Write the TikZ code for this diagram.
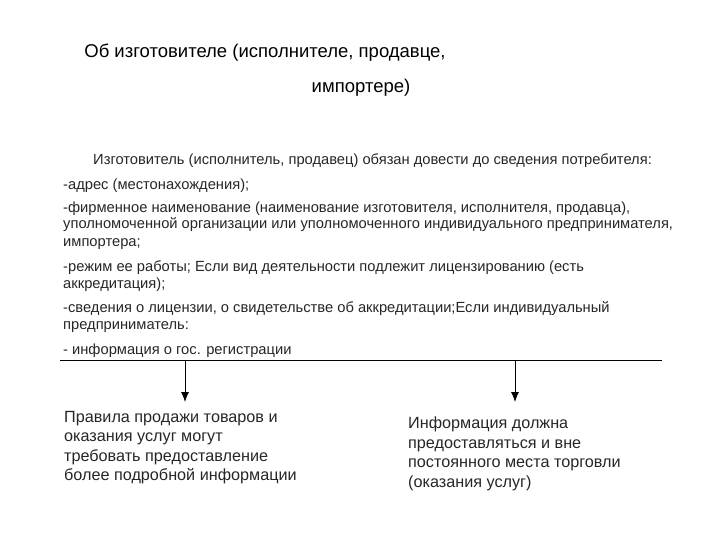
\documentclass[tikz,border=0pt]{standalone}
\usepackage{fontspec}
\usetikzlibrary{arrows.meta}
\setmainfont{Liberation Sans}
\begin{document}
\begin{tikzpicture}[x=1pt,y=-1pt,
 tl/.style={anchor=base west,inner sep=0pt,font=\fontsize{14.7}{18}\selectfont,text=black!85},
 bt/.style={anchor=north west,inner sep=0pt,align=left,font=\fontsize{16.2}{19.5}\selectfont,text=black!85},
 ttl/.style={anchor=base,inner sep=0pt,font=\fontsize{18.5}{26}\selectfont},
 arr/.style={-{Latex[length=10pt,width=8pt]},line width=0.8pt}]
\useasboundingbox (0,0) rectangle (720,540);
\node[ttl] (t1) at (265,58) {Об изготовителе (исполнителе, продавце,};
\node[ttl] (t2) at (361,93) {импортере)};
\node[tl] (l1) at (93,165) {Изготовитель (исполнитель, продавец) обязан довести до сведения потребителя:};
\node[tl] (l2) at (63,190) {-адрес (местонахождения);};
\node[tl] (l3) at (63,212) {-фирменное наименование (наименование изготовителя, исполнителя, продавца),};
\node[tl] (l4) at (63,229) {уполномоченной организации или уполномоченного индивидуального предпринимателя,};
\node[tl] (l5) at (63,246) {импортера;};
\node[tl] (l6) at (63,271) {-режим ее работы; Если вид деятельности подлежит лицензированию (есть};
\node[tl] (l7) at (63,288) {аккредитация);};
\node[tl] (l8) at (63,312) {-сведения о лицензии, о свидетельстве об аккредитации;Если индивидуальный};
\node[tl] (l9) at (63,329) {предприниматель:};
\node[tl] (l10) at (63,354) {- информация о гос. регистрации};
\coordinate (hl) at (60,360);
\coordinate (hr) at (662,360);
\draw[line width=0.8pt] (hl) -- (hr);
\coordinate (a1) at (185,360);
\coordinate (a2) at (515,360);
\node[bt] (b1) at (64,411) {Правила продажи товаров и\\оказания услуг могут\\требовать предоставление\\более подробной информации};
\node[bt] (b2) at (408,417) {Информация должна\\предоставляться и вне\\постоянного места торговли\\(оказания услуг)};
\draw[arr] (a1) -- (185,402);
\draw[arr] (a2) -- (515,402);
\end{tikzpicture}
\end{document}
